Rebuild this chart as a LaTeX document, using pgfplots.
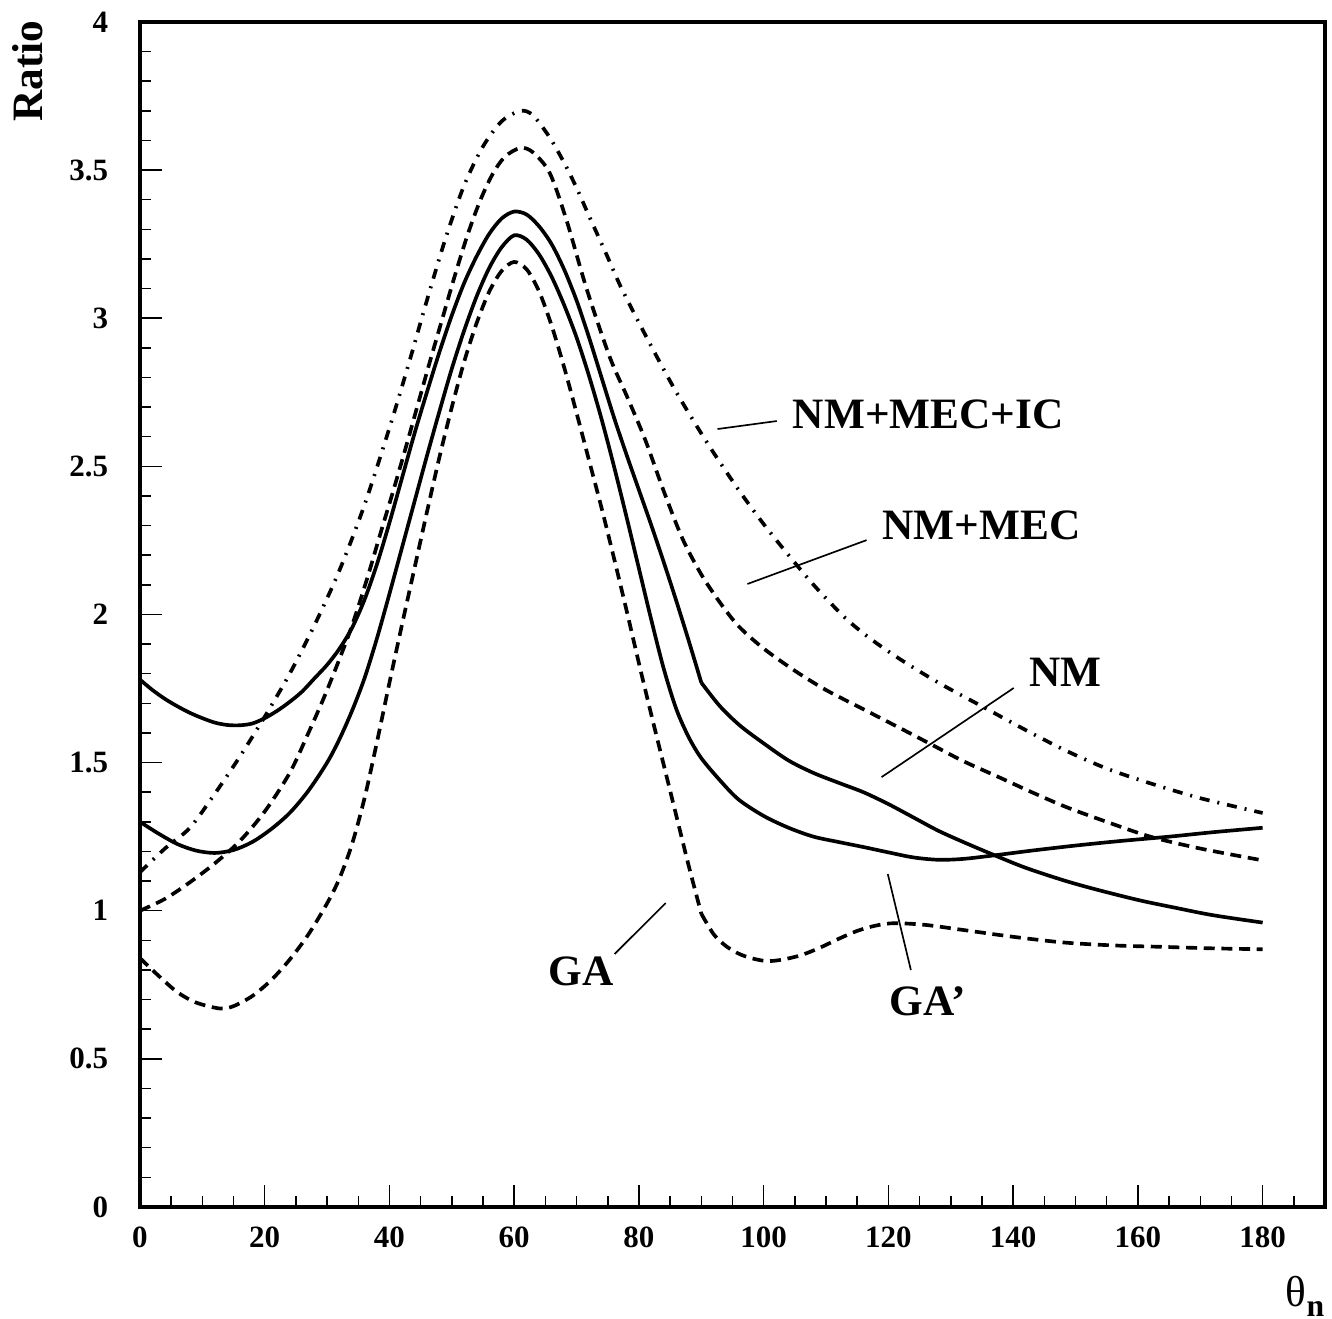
\documentclass[border=0pt]{standalone}
\usepackage{fontspec}
\setmainfont{Liberation Serif}
\usepackage{pgfplots}
\pgfplotsset{compat=1.18}
\begin{document}
\begin{tikzpicture}
\begin{axis}[
  name=ax,
  scale only axis,
  width=355.5pt, height=355.5pt,
  xmin=0, xmax=190, ymin=0, ymax=4,
  xtick={0,20,...,180},
  minor xtick={0,5,...,190},
  ytick={0,0.5,1,1.5,2,2.5,3,3.5,4},
  minor ytick={0.1,0.2,0.3,0.4,0.6,0.7,0.8,0.9,1.1,1.2,1.3,1.4,1.6,1.7,1.8,1.9,2.1,2.2,2.3,2.4,2.6,2.7,2.8,2.9,3.1,3.2,3.3,3.4,3.6,3.7,3.8,3.9},
  tick align=inside,
  xtick pos=lower, ytick pos=left,
  major tick length=6.6pt, minor tick length=3.3pt,
  tick style={black, line width=0.45pt},
  axis line style={line width=1.2pt},
  tick label style={font=\bfseries\fontsize{9.3}{9.3}\selectfont},
  /pgf/number format/assume math mode=true,
  xticklabel style={yshift=-2.4pt},
  yticklabel style={xshift=-6pt},
  clip=false,
  cycle list={{black,solid,mark=none}},
  every axis plot/.append style={line width=1.1pt, black, mark=none, smooth, tension=0.5},
]
% NM+MEC+IC (dash-dot)
\addplot[black, mark=none, dash pattern=on 3pt off 2.4pt on 0.6pt off 2.4pt] coordinates {
(0,1.13) (4,1.21) (8,1.28) (12,1.395) (16,1.52) (20,1.655) (24,1.80) (28,1.965) (32,2.15) (36,2.37) (40,2.63) (43,2.84) (46,3.06) (49,3.27) (52,3.45) (55,3.58) (58,3.665) (61,3.70) (63,3.685) (65.7,3.61) (68,3.525) (70,3.44) (72,3.345) (74.8,3.215) (77,3.11) (80,2.985) (83,2.865) (86,2.75) (89,2.645) (92,2.545) (96,2.42) (100,2.305) (104,2.20) (108,2.10) (113,1.99) (117,1.92) (121.8,1.85) (128,1.77) (135,1.69) (142,1.61) (148.5,1.54) (155,1.48) (162,1.43) (170,1.38) (180,1.33)
};
% NM+MEC (dashed)
\addplot[black, mark=none, dash pattern=on 3.3pt off 2pt] coordinates {
(0,1.00) (4,1.04) (8,1.096) (12,1.16) (16,1.235) (20,1.335) (24,1.465) (27,1.60) (30,1.745) (33.7,1.945) (36.4,2.12) (38.5,2.27) (40.5,2.41) (42.5,2.555) (44.5,2.705) (46.5,2.855) (48.5,3.00) (50.5,3.145) (52.5,3.28) (54.5,3.395) (56.5,3.485) (58.5,3.545) (61,3.575) (63,3.56) (65.7,3.49) (68.4,3.33) (71.6,3.10) (75.3,2.87) (78,2.74) (81,2.59) (84,2.415) (87,2.255) (90,2.135) (93,2.04) (96,1.96) (100,1.885) (105,1.81) (110,1.745) (116,1.68) (122,1.615) (127,1.56) (132,1.505) (137.8,1.45) (143,1.40) (148.5,1.35) (155,1.30) (162,1.25) (170,1.21) (180,1.17)
};
% NM (solid)
\addplot[black, mark=none, solid] coordinates {
(0,1.78) (2,1.745) (4,1.715) (6,1.69) (8,1.668) (10,1.65) (12,1.635) (14,1.627) (16,1.626) (18,1.632) (20,1.65) (22,1.675) (24,1.705) (26,1.74) (28,1.785) (30,1.83) (32,1.885) (34,1.955) (36,2.05) (38,2.17) (40,2.31) (42,2.46) (44,2.61) (46,2.75) (48,2.885) (50,3.01) (52,3.12) (54,3.21) (56,3.285) (58,3.337) (60,3.36) (62,3.35) (64,3.31) (66,3.25) (68,3.165) (70,3.06) (72,2.935) (74,2.80) (76,2.665) (78,2.54) (80,2.42) (82,2.30) (84,2.175) (86,2.045) (88,1.91) (90,1.77)
};
\addplot[black, mark=none, solid] coordinates {
(90,1.77) (93,1.69) (96.2,1.625) (100,1.565) (104,1.507) (108,1.465) (112,1.432) (116,1.40) (120,1.36) (124,1.315) (128,1.27) (132,1.232) (136.7,1.19) (142,1.145) (148.5,1.10) (154,1.068) (160.3,1.035) (166,1.01) (172,0.985) (180,0.96)
};
% GA' (solid)
\addplot[black, mark=none, solid] coordinates {
(0,1.30) (3,1.26) (6,1.225) (9,1.203) (12,1.195) (15,1.205) (18,1.232) (21,1.275) (24,1.33) (27,1.405) (30,1.50) (32,1.58) (34,1.675) (36,1.785) (38,1.92) (40,2.07) (42,2.225) (44,2.38) (46,2.535) (48,2.685) (50,2.83) (52,2.96) (54,3.075) (56,3.17) (58,3.24) (60,3.28) (62,3.265) (64,3.215) (66,3.14) (68,3.045) (70,2.935) (72,2.805) (74,2.66) (76,2.50) (78,2.33) (80,2.155) (82,1.98) (84,1.815) (86,1.68) (88,1.585) (90,1.515) (93,1.44) (96,1.375) (100,1.32) (104,1.28) (108,1.25) (112,1.232) (116,1.215) (120,1.197) (124,1.18) (128,1.172) (132,1.175) (137,1.187) (143,1.203) (150,1.22) (157,1.235) (165,1.25) (172,1.265) (180,1.28)
};
% GA (dashed)
\addplot[black, mark=none, dash pattern=on 3.3pt off 2pt] coordinates {
(0,0.84) (3,0.78) (6,0.725) (9,0.69) (12.8,0.67) (15,0.678) (18,0.712) (21,0.765) (24,0.835) (27,0.92) (30,1.025) (32,1.11) (34,1.225) (36,1.38) (38,1.57) (40,1.77) (42,1.965) (44,2.155) (46,2.345) (48,2.53) (50,2.70) (52,2.855) (54,2.985) (56,3.09) (58,3.16) (60,3.19) (62,3.165) (64,3.09) (66,2.975) (68,2.835) (70,2.68) (72,2.52) (74,2.36) (76,2.19) (78,2.015) (80,1.835) (82,1.66) (84,1.49) (86,1.32) (88,1.15) (90,0.99)
};
\addplot[black, mark=none, dash pattern=on 3.3pt off 2pt] coordinates {
(90,0.99) (92,0.92) (94,0.88) (96,0.855) (98,0.84) (100.5,0.83) (103,0.835) (106,0.85) (109,0.875) (112,0.905) (115,0.932) (118,0.95) (121,0.958) (126,0.952) (132,0.935) (140,0.912) (148,0.893) (156,0.883) (164,0.878) (172,0.873) (180,0.87)
};
% pointer lines
\draw[line width=0.5pt] (axis cs:92.6,2.626) -- (axis cs:102.1,2.653);
\draw[line width=0.5pt] (axis cs:97.4,2.103) -- (axis cs:116.5,2.251);
\draw[line width=0.5pt] (axis cs:118.9,1.451) -- (axis cs:140.1,1.752);
\draw[line width=0.5pt] (axis cs:76.1,0.854) -- (axis cs:84.3,1.026);
\draw[line width=0.5pt] (axis cs:119.9,1.124) -- (axis cs:123.6,0.80);
% labels
\begin{scope}[every node/.style={font=\bfseries\fontsize{13}{13}\selectfont, inner sep=0pt}]
\node at (axis cs:126.4,2.677) {NM+MEC+IC};
\node at (axis cs:134.9,2.302) {NM+MEC};
\node at (axis cs:148.4,1.804) {NM};
\node at (axis cs:70.7,0.797) {GA};
\node at (axis cs:126.3,0.695) {GA'};
\end{scope}
\node[rotate=90, anchor=east, inner sep=0pt, font=\bfseries\fontsize{13}{13}\selectfont] at (rel axis cs:-0.0945,1.0017) {Ratio};
\node[anchor=base east, inner sep=0pt] at (rel axis cs:1,-0.0844) {\fontsize{13}{13}\selectfont θ\raisebox{-3pt}{\bfseries\fontsize{9.5}{9.5}\selectfont n}};
\end{axis}
\pgfresetboundingbox
\path[use as bounding box] ([shift={(-42pt,-33.6pt)}]ax.south west) rectangle ([shift={(2.1pt,6.6pt)}]ax.north east);
\end{tikzpicture}
\end{document}
